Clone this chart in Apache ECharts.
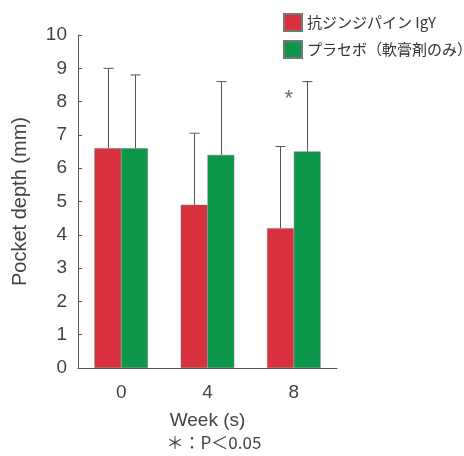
<!DOCTYPE html>
<html><head><meta charset="utf-8">
<script src="https://cdn.jsdelivr.net/npm/echarts@6/dist/echarts.min.js"></script>
<style>html,body{margin:0;padding:0;background:#fff}#c{width:464px;height:456px}</style>
</head><body><div id="c"></div>
<script>
const categories = ['0', '4', '8'];
const seriesNames = ['抗ジンジパイン IgY', 'プラセボ（軟膏剤のみ）'];
const igyMean = [6.6, 4.9, 4.2];
const igyUpper = [9.0, 7.05, 6.65];
const placeboMean = [6.6, 6.4, 6.5];
const placeboUpper = [8.8, 8.6, 8.6];
const yTicks = [0, 10, 1];
const starPoint = [[2, 8.2]];
const footnote = '＊：P＜0.05';

const colors = ['#d8303d', '#0c974a'];
const BAR_FRAC = 0.31;
const font = '"Liberation Sans", Arial, "Noto Sans CJK JP", sans-serif';

function errSeries(name, means, uppers, side) {
  return {
    type: 'custom', name: name, silent: true, z: 5,
    data: means.map((m, i) => [i, m, uppers[i]]),
    renderItem: function (params, api) {
      const band = api.size([1, 0])[0];
      const off = side * band * BAR_FRAC / 2;
      const p0 = api.coord([api.value(0), api.value(1)]);
      const p1 = api.coord([api.value(0), api.value(2)]);
      const x = Math.round(p0[0] + off) + 0.5;
      const st = { stroke: '#555', lineWidth: 1 };
      return { type: 'group', children: [
        { type: 'line', shape: { x1: x, y1: p0[1], x2: x, y2: p1[1] }, style: st },
        { type: 'line', shape: { x1: x - 5, y1: p1[1], x2: x + 5, y2: p1[1] }, style: st }
      ]};
    }
  };
}

const chart = echarts.init(document.getElementById('c'));
chart.setOption({
  animation: false,
  textStyle: { fontFamily: font },
  grid: { left: 78, right: 127, top: 35, bottom: 88 },
  legend: {
    orient: 'vertical', left: 278, top: 8, itemWidth: 18, itemHeight: 17, itemGap: 8,
    icon: 'rect', data: seriesNames,
    textStyle: { fontSize: 15, color: '#333', fontFamily: '"Noto Sans CJK JP", sans-serif' }
  },
  title: {
    text: footnote, left: 209, textAlign: 'center', top: 429,
    textStyle: { fontSize: 17, fontWeight: 'normal', color: '#444', fontFamily: '"Noto Sans CJK JP", sans-serif' }
  },
  xAxis: {
    type: 'category', data: categories,
    name: 'Week (s)', nameLocation: 'middle', nameGap: 43,
    nameTextStyle: { fontSize: 19, color: '#444' },
    axisLine: { lineStyle: { color: '#555', width: 1 } },
    axisTick: { inside: true, length: 5, lineStyle: { color: '#555' } },
    axisLabel: { fontSize: 19, color: '#444', margin: 15 }
  },
  yAxis: {
    type: 'value', min: yTicks[0], max: yTicks[1], interval: yTicks[2],
    name: 'Pocket depth (mm)', nameLocation: 'middle', nameGap: 48,
    nameTextStyle: { fontSize: 20, color: '#444' },
    axisLine: { show: true, lineStyle: { color: '#555', width: 1 } },
    axisTick: { show: true, inside: true, length: 4, lineStyle: { color: '#555' } },
    splitLine: { show: false },
    axisLabel: { fontSize: 19, color: '#444', margin: 11 }
  },
  series: [
    { type: 'bar', name: seriesNames[0], data: igyMean, barWidth: (BAR_FRAC * 100) + '%', barGap: '0%',
      itemStyle: { color: colors[0], borderColor: '#777', borderWidth: 0.5 } },
    { type: 'bar', name: seriesNames[1], data: placeboMean, barWidth: (BAR_FRAC * 100) + '%', barGap: '0%',
      itemStyle: { color: colors[1], borderColor: '#777', borderWidth: 0.5 } },
    errSeries(seriesNames[0], igyMean, igyUpper, -1),
    errSeries(seriesNames[1], placeboMean, placeboUpper, 1),
    { type: 'scatter', data: starPoint, symbolSize: 0, silent: true,
      label: { show: true, formatter: '*', offset: [-5, 4], fontSize: 22, color: '#444', position: 'inside' } }
  ]
});
</script></body></html>
